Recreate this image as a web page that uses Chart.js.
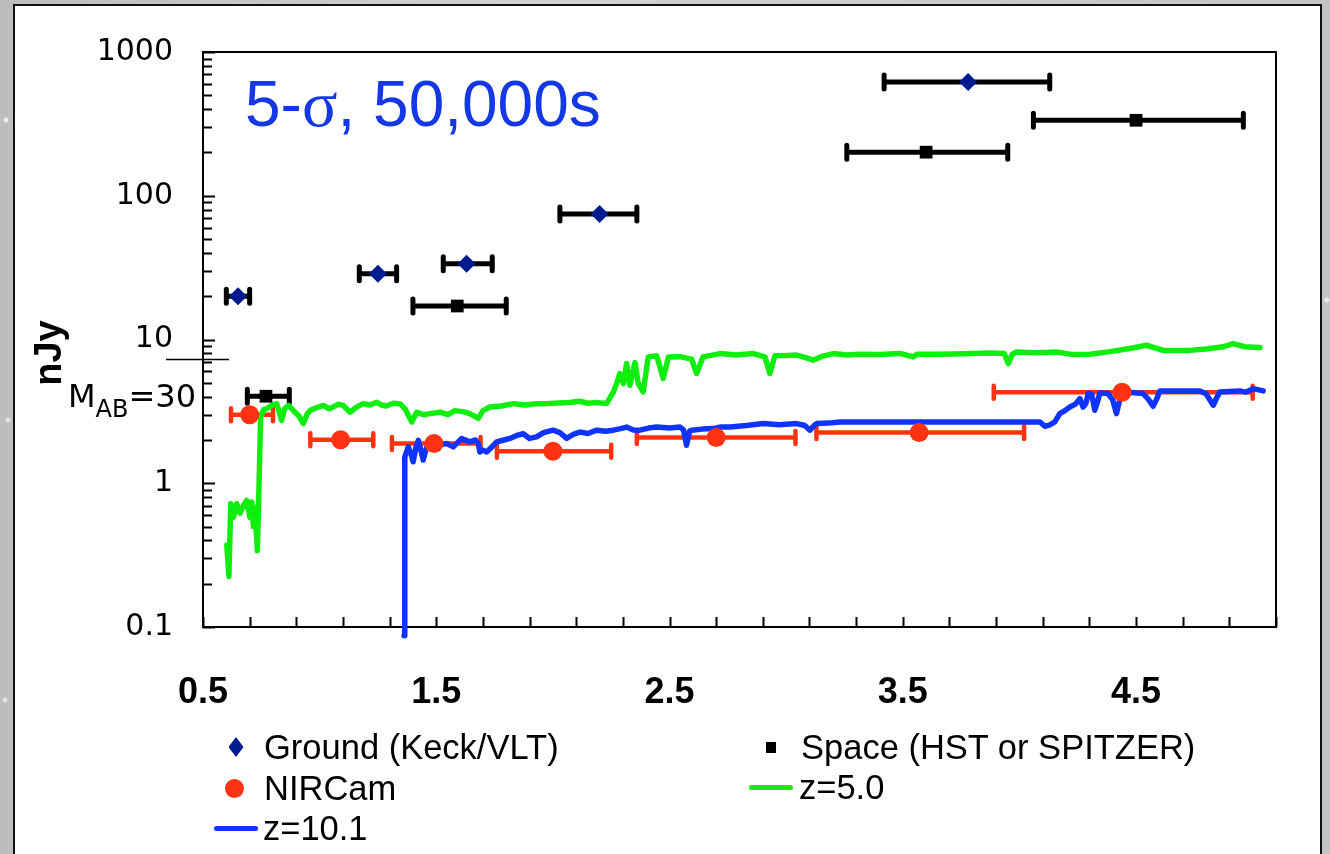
<!DOCTYPE html>
<html>
<head>
<meta charset="utf-8">
<title>NIRCam sensitivity, 5-sigma in 50,000 s</title>
<script src="https://cdn.jsdelivr.net/npm/chart.js@4.4.1/dist/chart.umd.min.js"></script>
<style>
  html, body { margin: 0; padding: 0; }
  body {
    width: 1330px; height: 854px; overflow: hidden; position: relative;
    background:
      radial-gradient(circle at 6px 120px, rgba(255,255,255,0.7) 0 2px, transparent 3px),
      radial-gradient(circle at 8px 420px, rgba(255,255,255,0.6) 0 2px, transparent 3px),
      radial-gradient(circle at 5px 700px, rgba(255,255,255,0.6) 0 2px, transparent 3px),
      radial-gradient(circle at 1327px 300px, rgba(255,255,255,0.6) 0 2px, transparent 3px),
      linear-gradient(90deg, #bdbdbd, #d2d2d2 40%, #c4c4c4);
    font-family: "Liberation Sans", Arial, sans-serif;
  }
  #panel {
    position: absolute; left: 13px; top: 4px; width: 1309px; height: 870px;
    background: #fff; border: 2px solid #111; box-sizing: border-box;
  }
  #chart { position: absolute; left: 0; top: 0; }
  .txt { position: absolute; white-space: nowrap; color: #000; }
  #headline {
    left: 245px; top: 69px; font-size: 64px; line-height: 70px; color: #1438e6;
    font-family: "Liberation Sans", Arial, sans-serif;
  }
  #headline .sym { font-family: "Liberation Serif", "DejaVu Serif", serif; font-size: 66px; }
  #yTitle {
    left: 48px; top: 353px; font-size: 38px; line-height: 38px; font-weight: bold;
    transform: translate(-50%, -50%) rotate(-90deg);
  }
  #mag {
    left: 68px; top: 380px; font-size: 32px; line-height: 32px;
    font-family: "DejaVu Sans", sans-serif;
  }
  #mag sub { font-size: 24px; vertical-align: -10px; line-height: 0; }
  .leg { position: absolute; font-size: 34.5px; line-height: 40px; white-space: nowrap; }
  .mk { position: absolute; }
</style>
</head>
<body>
<div id="panel"></div>
<canvas id="chart" width="1330" height="854"></canvas>
<div class="txt" id="headline">5-<span class="sym">σ</span>, 50,000s</div>
<div class="txt" id="yTitle">nJy</div>
<div class="txt" id="mag">M<sub>AB</sub>=30</div>
<div id="legend"></div>
<script>
// Wavelength axis (micron) and flux axis (nJy)
const xTickStart = 0.5;
const xTickEnd = 5.1;
const xTickStep = 0.2;
const xLabelValues = [0.5, 1.5, 2.5, 3.5, 4.5];
const yDecades = [0.1, 1, 10, 100, 1000];
const magLineFlux = 7.3;   // flux marked with the M_AB = 30 reference tick

// Ground-based limits (Keck / VLT)
const groundWavelength = [0.65, 1.25, 1.63, 2.20, 3.78];
const groundBandLow    = [0.60, 1.17, 1.53, 2.03, 3.42];
const groundBandHigh   = [0.70, 1.33, 1.74, 2.36, 4.13];
const groundFlux       = [20, 28.7, 33.7, 74.6, 618];

// Space-based limits (HST or Spitzer)
const spaceWavelength = [0.77, 1.59, 3.60, 4.50];
const spaceBandLow    = [0.69, 1.40, 3.26, 4.06];
const spaceBandHigh   = [0.87, 1.80, 3.95, 4.96];
const spaceFlux       = [4.03, 17.1, 201, 335];

// NIRCam limits
const nircamWavelength = [0.70, 1.09, 1.49, 2.00, 2.70, 3.57, 4.44];
const nircamBandLow    = [0.62, 0.96, 1.31, 1.76, 2.36, 3.13, 3.89];
const nircamBandHigh   = [0.80, 1.23, 1.69, 2.25, 3.04, 4.02, 5.00];
const nircamFlux       = [3.0, 2.01, 1.89, 1.67, 2.08, 2.25, 4.29];

// Model galaxy spectrum at z = 5.0
const z5Wavelength = [0.602,0.611,0.619,0.630,0.644,0.659,0.673,0.687,0.701,0.709,0.716,0.723,0.733,0.739,0.747,
  0.760,0.773,0.790,0.816,0.837,0.850,0.866,0.887,0.910,0.930,0.945,0.959,0.985,1.016,1.040,1.059,1.080,1.101,
  1.130,1.160,1.187,1.215,1.245,1.265,1.287,1.315,1.344,1.366,1.395,1.416,1.445,1.473,1.516,1.550,1.580,1.615,
  1.644,1.680,1.700,1.730,1.780,1.830,1.880,1.930,1.973,2.020,2.070,2.116,2.150,2.188,2.230,2.259,2.273,2.287,
  2.302,2.316,2.330,2.352,2.366,2.387,2.409,2.445,2.473,2.495,2.545,2.595,2.616,2.644,2.716,2.785,2.859,2.909,
  2.930,2.952,3.000,3.045,3.080,3.116,3.160,3.202,3.260,3.316,3.400,3.488,3.545,3.560,3.659,3.760,3.873,3.935,
  3.952,3.970,3.988,4.070,4.159,4.230,4.302,4.380,4.473,4.545,4.616,4.680,4.730,4.800,4.873,4.916,4.966,5.031];
const z5Flux = [0.37,0.225,0.72,0.58,0.72,0.62,0.70,0.76,0.58,0.74,0.50,0.68,0.34,0.80,2.89,
  3.25,3.30,3.45,3.58,2.74,3.30,3.48,3.21,2.95,2.60,3.00,3.21,3.35,3.48,3.30,3.40,3.55,3.48,
  3.12,3.40,3.58,3.50,3.66,3.50,3.45,3.60,3.58,3.30,2.67,3.12,3.00,3.05,3.12,3.00,3.20,3.15,
  3.05,2.83,3.20,3.39,3.45,3.58,3.50,3.58,3.58,3.62,3.65,3.72,3.60,3.65,3.58,4.30,4.93,5.80,
  4.93,6.80,4.80,6.90,4.93,4.32,7.57,7.70,5.35,7.57,7.60,7.30,5.80,7.57,7.98,7.80,7.98,7.57,
  5.80,7.70,7.75,7.80,7.50,7.18,7.70,7.98,7.80,7.90,7.85,8.00,7.57,7.90,7.90,7.95,8.05,8.00,
  6.80,7.90,8.19,8.10,8.19,7.85,7.90,8.20,8.65,9.12,8.40,8.40,8.40,8.60,8.90,9.35,8.90,8.79];

// Model galaxy spectrum at z = 10.1
const z10Wavelength = [1.362,1.365,1.380,1.392,1.401,1.412,1.423,1.434,1.444,1.455,1.466,1.487,1.510,1.545,1.573,
  1.609,1.644,1.668,1.680,1.687,1.700,1.716,1.740,1.759,1.790,1.816,1.845,1.873,1.900,1.930,1.960,2.001,2.030,
  2.059,2.090,2.116,2.150,2.188,2.225,2.259,2.290,2.316,2.345,2.373,2.410,2.445,2.500,2.545,2.560,2.573,2.586,
  2.595,2.640,2.687,2.720,2.759,2.830,2.902,2.970,3.045,3.080,3.102,3.120,3.131,3.180,3.230,3.330,4.088,4.109,
  4.130,4.152,4.173,4.195,4.216,4.240,4.259,4.273,4.285,4.295,4.310,4.323,4.335,4.345,4.380,4.400,4.416,4.430,
  4.438,4.480,4.530,4.555,4.573,4.590,4.602,4.700,4.773,4.800,4.831,4.845,4.859,4.900,4.945,4.970,5.002,5.045];
const z10Flux = [0.087,1.52,1.79,1.60,1.41,1.75,1.99,1.70,1.45,1.70,1.89,1.79,1.85,1.89,1.79,
  2.05,1.94,2.00,1.89,1.65,1.70,1.65,1.80,1.94,2.00,2.05,2.15,2.21,2.05,2.10,2.25,2.34,2.25,
  2.05,2.20,2.27,2.22,2.34,2.30,2.34,2.40,2.46,2.35,2.34,2.42,2.46,2.42,2.46,2.35,1.84,2.30,
  2.34,2.38,2.40,2.46,2.46,2.52,2.60,2.55,2.60,2.52,2.34,2.52,2.60,2.62,2.67,2.67,2.67,2.49,
  2.55,2.67,3.05,3.20,3.39,3.55,3.88,3.39,3.60,4.21,4.15,3.22,3.70,4.25,4.21,3.80,3.05,3.80,
  4.32,4.28,4.21,3.80,3.43,3.90,4.39,4.39,4.39,4.20,3.49,3.90,4.32,4.35,4.39,4.30,4.55,4.39];

const points = (xs, ys) => xs.map((v, i) => ({ x: v, y: ys[i] }));

const NAVY = '#001a8f', BLACK = '#000000', RED = '#ff3312', GREEN = '#10ee10', BLUE = '#1034ff';

// Frame, inward tick marks and the M_AB reference tick
const framePlugin = {
  id: 'frame',
  beforeDatasetsDraw(chart) {
    const { ctx, chartArea: a, scales: { x, y } } = chart;
    ctx.save();
    ctx.strokeStyle = '#000';
    ctx.lineWidth = 2;
    ctx.strokeRect(a.left, a.top, a.right - a.left, a.bottom - a.top);
    ctx.beginPath();
    const nX = Math.round((xTickEnd - xTickStart) / xTickStep);
    for (let i = 0; i <= nX; i++) {
      const px = Math.round(x.getPixelForValue(xTickStart + i * xTickStep)) + 0.5;
      ctx.moveTo(px, a.bottom);
      ctx.lineTo(px, a.bottom - 10);
    }
    for (let d = 0; d < yDecades.length; d++) {
      const base = yDecades[d];
      for (let m = 1; m <= 9; m++) {
        const v = base * m;
        if (v > y.max * 1.0001) break;
        const py = Math.round(y.getPixelForValue(v)) + 0.5;
        ctx.moveTo(a.left, py);
        ctx.lineTo(a.left + (m === 1 ? 12 : 9), py);
      }
    }
    ctx.stroke();
    const my = Math.round(y.getPixelForValue(magLineFlux)) + 0.5;
    ctx.lineWidth = 1.6;
    ctx.beginPath();
    ctx.moveTo(a.left - 37, my);
    ctx.lineTo(a.left + 26, my);
    ctx.stroke();
    ctx.restore();
  }
};

// Horizontal bars showing each filter's wavelength coverage
const bandBarPlugin = {
  id: 'bandBars',
  beforeDatasetsDraw(chart) {
    const { ctx, scales: { x, y } } = chart;
    chart.data.datasets.forEach(ds => {
      if (!ds.bandLow) return;
      ctx.save();
      ctx.strokeStyle = ds.bandColor;
      ctx.lineWidth = ds.bandWidth;
      ds.data.forEach((p, i) => {
        const py = y.getPixelForValue(p.y);
        const x0 = x.getPixelForValue(ds.bandLow[i]);
        const x1 = x.getPixelForValue(ds.bandHigh[i]);
        ctx.lineCap = 'butt';
        ctx.beginPath();
        ctx.moveTo(x0, py); ctx.lineTo(x1, py);
        ctx.stroke();
        ctx.lineCap = 'round';
        ctx.beginPath();
        ctx.moveTo(x0, py - ds.capHalf); ctx.lineTo(x0, py + ds.capHalf);
        ctx.moveTo(x1, py - ds.capHalf); ctx.lineTo(x1, py + ds.capHalf);
        ctx.stroke();
      });
      ctx.restore();
    });
  }
};

const chart = new Chart(document.getElementById('chart'), {
  type: 'scatter',
  data: {
    datasets: [
      {
        label: 'Ground (Keck/VLT)', data: points(groundWavelength, groundFlux), order: 0,
        pointStyle: 'rectRot', pointRadius: 9, backgroundColor: NAVY, borderColor: NAVY, borderWidth: 0,
        bandLow: groundBandLow, bandHigh: groundBandHigh, bandColor: BLACK, bandWidth: 5, capHalf: 7
      },
      {
        label: 'Space (HST or SPITZER)', data: points(spaceWavelength, spaceFlux), order: 0,
        pointStyle: 'rect', pointRadius: 9, backgroundColor: BLACK, borderColor: BLACK, borderWidth: 0,
        bandLow: spaceBandLow, bandHigh: spaceBandHigh, bandColor: BLACK, bandWidth: 5, capHalf: 7
      },
      {
        label: 'NIRCam', data: points(nircamWavelength, nircamFlux), order: 0,
        pointStyle: 'circle', pointRadius: 9.5, backgroundColor: RED, borderColor: RED, borderWidth: 0,
        bandLow: nircamBandLow, bandHigh: nircamBandHigh, bandColor: RED, bandWidth: 4.5, capHalf: 6.5
      },
      {
        label: 'z=5.0', data: points(z5Wavelength, z5Flux), order: 1, showLine: true,
        pointRadius: 0, borderColor: GREEN, borderWidth: 5.5, tension: 0,
        borderJoinStyle: 'round', borderCapStyle: 'round'
      },
      {
        label: 'z=10.1', data: points(z10Wavelength, z10Flux), order: 1, showLine: true, clip: false,
        pointRadius: 0, borderColor: BLUE, borderWidth: 5.5, tension: 0,
        borderJoinStyle: 'round', borderCapStyle: 'round'
      }
    ]
  },
  options: {
    responsive: false,
    animation: false,
    events: [],
    layout: { padding: { left: 0, top: 52, right: 54, bottom: 0 } },
    plugins: { legend: { display: false }, tooltip: { enabled: false }, title: { display: false } },
    scales: {
      x: {
        type: 'linear', min: xTickStart, max: xTickEnd,
        afterFit(scale) { scale.height = 227; },
        grid: { display: false, drawTicks: false }, border: { display: false },
        ticks: {
          stepSize: xTickStep, autoSkip: false, maxRotation: 0, padding: 44, color: '#000',
          font: { family: 'Liberation Sans', size: 36, weight: 'bold' },
          callback(v) {
            const hit = xLabelValues.find(t => Math.abs(t - v) < 1e-6);
            return hit === undefined ? '' : hit.toFixed(1);
          }
        }
      },
      y: {
        type: 'logarithmic', min: 0.1, max: 1000,
        afterFit(scale) { scale.width = 203; },
        grid: { display: false, drawTicks: false }, border: { display: false },
        ticks: {
          autoSkip: false, padding: 30, color: '#000',
          font: { family: 'DejaVu Sans', size: 30 },
          callback(v) {
            const hit = yDecades.find(t => Math.abs(t - v) / t < 1e-6);
            return hit === undefined ? '' : String(hit);
          }
        }
      }
    }
  },
  plugins: [framePlugin, bandBarPlugin]
});

// Legend laid out in two columns below the plot
const legendItems = [
  { text: chart.data.datasets[0].label, kind: 'diamond', color: NAVY, mx: 236, tx: 264, cy: 747 },
  { text: chart.data.datasets[1].label, kind: 'square', color: BLACK, mx: 771, tx: 801, cy: 747 },
  { text: chart.data.datasets[2].label, kind: 'circle', color: RED, mx: 234, tx: 264, cy: 788 },
  { text: chart.data.datasets[3].label, kind: 'line', color: GREEN, mx: 771, tx: 799, cy: 787 },
  { text: chart.data.datasets[4].label, kind: 'line', color: BLUE, mx: 236, tx: 263, cy: 828 }
];
const legendBox = document.getElementById('legend');
legendItems.forEach(it => {
  const m = document.createElement('div');
  m.className = 'mk';
  let w, h;
  if (it.kind === 'diamond') { w = 15; h = 20; m.style.clipPath = 'polygon(50% 0, 100% 50%, 50% 100%, 0 50%)'; }
  else if (it.kind === 'square') { w = 10; h = 11; }
  else if (it.kind === 'circle') { w = 19; h = 19; m.style.borderRadius = '50%'; }
  else { w = 44; h = 5; m.style.borderRadius = '3px'; }
  m.style.width = w + 'px'; m.style.height = h + 'px';
  m.style.left = (it.mx - w / 2) + 'px'; m.style.top = (it.cy - h / 2) + 'px';
  m.style.background = it.color;
  legendBox.appendChild(m);
  const t = document.createElement('div');
  t.className = 'leg';
  t.textContent = it.text;
  t.style.left = it.tx + 'px';
  t.style.top = (it.cy - 20) + 'px';
  legendBox.appendChild(t);
});
</script>
</body>
</html>
